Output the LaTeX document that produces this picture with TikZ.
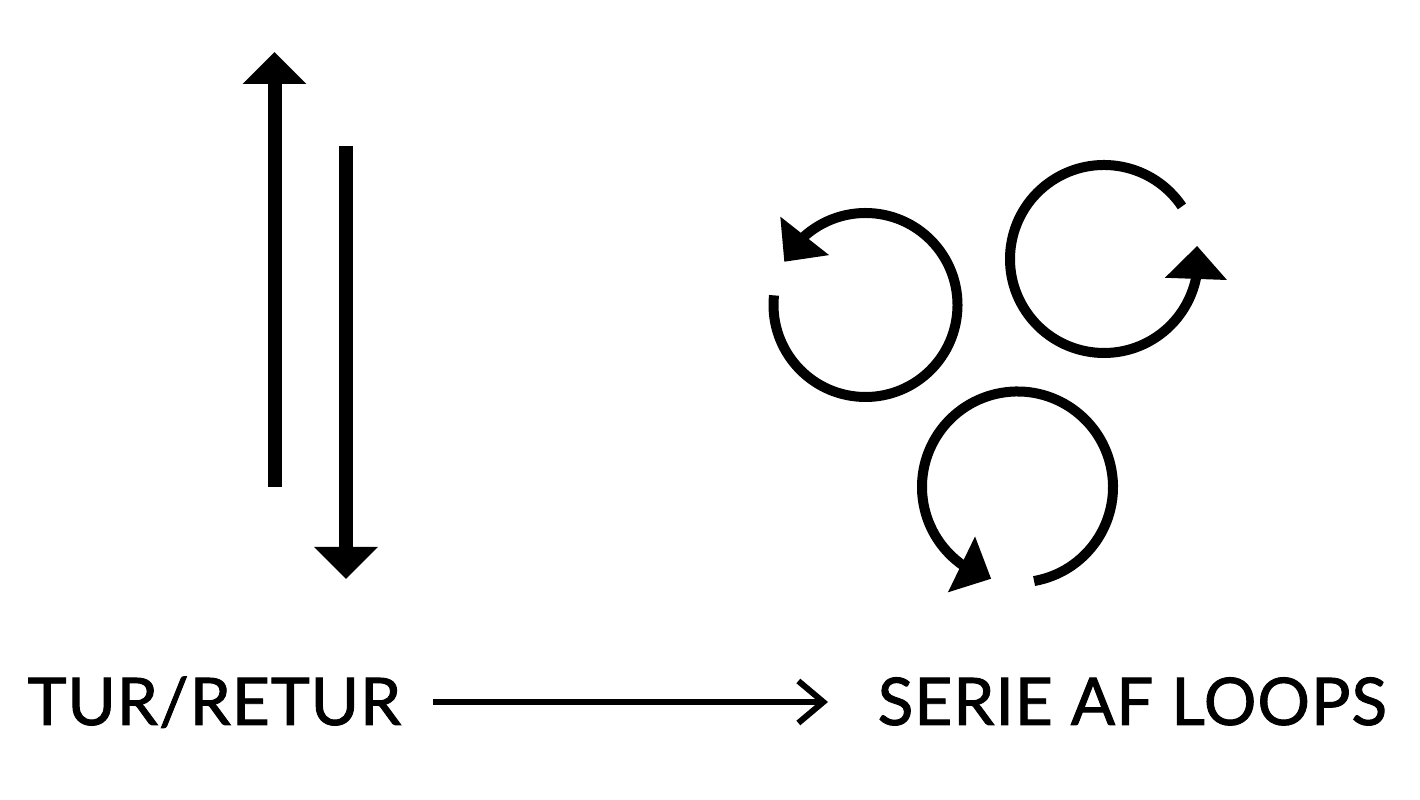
\documentclass[tikz,border=0pt]{standalone}
\usepackage{fontspec}
\setmainfont{Lato}
\newfontfamily\capfont{Lato}[FakeBold=1.4,LetterSpace=1.5]
\usepackage{tikz}
\usetikzlibrary{arrows.meta,bending,calc}
\tikzset{every picture/.style={>={Straight Barb[length=0.25cm,width=0.42cm]}},
  caption/.style={font=\capfont\fontsize{18.7}{22}\selectfont,inner sep=0pt},
  shaft/.style={line width=0.14cm,-{Triangle[length=0.32cm,width=0.62cm]}},
  rotarrow/.style={line width=0.1cm,-{Triangle[length=0.33cm,width=0.6cm]}}}

\begin{document}
\begin{tikzpicture}
  \useasboundingbox (0,0) rectangle (14.2,8);
  \coordinate (up0) at (2.745,3.13);
  \coordinate (up1) at (2.745,7.48);
  \coordinate (down0) at (3.46,6.54);
  \coordinate (down1) at (3.46,2.21);
  \draw [shaft] (up0) -- (up1);
  \draw [shaft] (down0) -- (down1);
  \coordinate (loopL) at (8.655,4.95);
  \coordinate (loopR) at (11.04,5.41);
  \coordinate (loopB) at (10.175,3.13);
  \draw [rotarrow] (loopL) ++(174:0.92) arc [start angle=174, end angle=512, radius=0.92];
  \draw [rotarrow] (loopR) ++(34:0.94) arc [start angle=34, end angle=368, radius=0.94];
  \draw [rotarrow] (loopB) ++(280:0.955) arc [start angle=280, end angle=614, radius=0.955];
  \node (tur) [caption,anchor=base west] at (0.27,0.75) {TUR/RETUR};
  \node (serie) [caption,anchor=base west] at (8.77,0.75) {SERIE AF LOOPS};
  \draw [->, line width=0.06cm] ($(tur.base east)+(0.31,0.23)$) -- ($(serie.base west)+(-0.49,0.23)$);
\end{tikzpicture}
\end{document}
